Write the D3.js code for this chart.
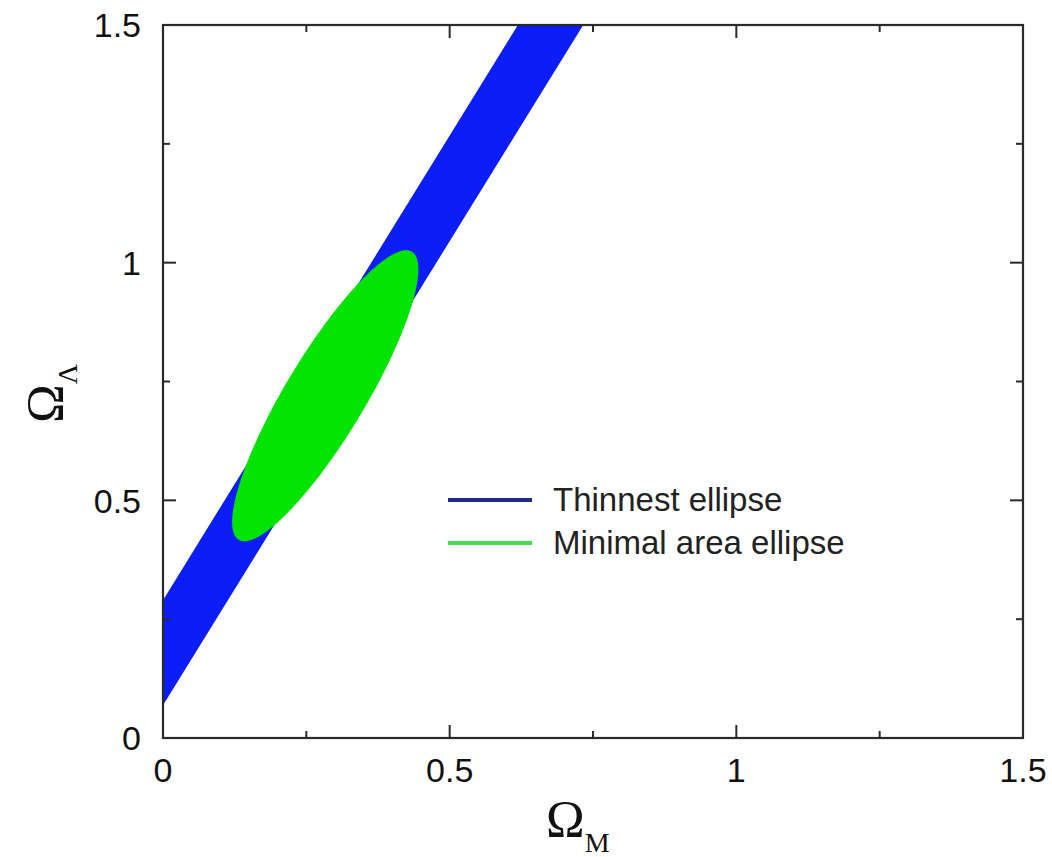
<!DOCTYPE html>
<html>
<head>
<meta charset="utf-8">
<script src="https://cdn.jsdelivr.net/npm/d3@7"></script>
<style>
  html, body { margin: 0; padding: 0; background: #fff; }
  svg { display: block; }
</style>
</head>
<body>
<svg id="chart" width="1052" height="857"></svg>
<script>
// ---- data ----
const xDomain = [0, 1.5];
const yDomain = [0, 1.5];
const majorTicks = [0, 0.5, 1, 1.5];
const majorTickLabels = ["0", "0.5", "1", "1.5"];
const minorTicks = [0.25, 0.75, 1.25];

// Thinnest ellipse: a narrow band (corner points in data units, Ω_M, Ω_Λ)
const bandPolygon = [[0, 0.29], [0.619, 1.5], [0.733, 1.5], [0, 0.069]];

// Minimal area ellipse: centre and two conjugate semi-diameters (data units)
const ellipseCenter = [0.283, 0.72];
const ellipseU = [0.151, 0.303];
const ellipseV = [0.0598, -0.0433];

const legendLabels = ["Thinnest ellipse", "Minimal area ellipse"];
const xTitle = ["Ω", "M"];
const yTitle = ["Ω", "Λ"];

// ---- drawing ----
const svg = d3.select("#chart");
const x = d3.scaleLinear().domain(xDomain).range([163, 1023]);
const y = d3.scaleLinear().domain(yDomain).range([738, 25]);

svg.append("defs").append("clipPath").attr("id", "plotclip")
  .append("rect").attr("x", x(0)).attr("y", y(1.5))
  .attr("width", x(1.5) - x(0)).attr("height", y(0) - y(1.5));

const plot = svg.append("g").attr("clip-path", "url(#plotclip)");

const line = d3.line().x(d => x(d[0])).y(d => y(d[1]));

plot.append("path")
  .attr("d", line(bandPolygon) + "Z")
  .attr("fill", "#0b1ef8");

const angles = d3.range(0, 360, 2).map(a => a * Math.PI / 180);
const ellipsePts = angles.map(t => [
  ellipseCenter[0] + ellipseU[0] * Math.cos(t) + ellipseV[0] * Math.sin(t),
  ellipseCenter[1] + ellipseU[1] * Math.cos(t) + ellipseV[1] * Math.sin(t)
]);
plot.append("path")
  .attr("d", d3.line().x(d => x(d[0])).y(d => y(d[1])).curve(d3.curveCardinalClosed)(ellipsePts))
  .attr("fill", "#00e400");

// frame
const frameColor = "#2a2a2a";
svg.append("rect")
  .attr("x", x(0)).attr("y", y(1.5))
  .attr("width", x(1.5) - x(0)).attr("height", y(0) - y(1.5))
  .attr("fill", "none").attr("stroke", frameColor).attr("stroke-width", 2.2);

// ticks (inward, all four sides)
const tickG = svg.append("g").attr("stroke", frameColor).attr("stroke-width", 2);
function drawTicks(vals, len) {
  vals.forEach(v => {
    tickG.append("line").attr("x1", x(v)).attr("x2", x(v)).attr("y1", y(0)).attr("y2", y(0) - len);
    tickG.append("line").attr("x1", x(v)).attr("x2", x(v)).attr("y1", y(1.5)).attr("y2", y(1.5) + len);
    tickG.append("line").attr("y1", y(v)).attr("y2", y(v)).attr("x1", x(0)).attr("x2", x(0) + len);
    tickG.append("line").attr("y1", y(v)).attr("y2", y(v)).attr("x1", x(1.5)).attr("x2", x(1.5) - len);
  });
}
drawTicks(majorTicks, 13);
drawTicks(minorTicks, 7);

// tick labels
const tickFont = "'Liberation Sans', Arial, sans-serif";
svg.append("g").selectAll("text").data(majorTicks).join("text")
  .attr("x", d => x(d)).attr("y", 782)
  .attr("text-anchor", "middle")
  .attr("font-family", tickFont).attr("font-size", 34).attr("fill", "#111")
  .text((d, i) => majorTickLabels[i]);

svg.append("g").selectAll("text").data(majorTicks).join("text")
  .attr("x", 141).attr("y", d => y(d)).attr("dy", "0.36em")
  .attr("text-anchor", "end")
  .attr("font-family", tickFont).attr("font-size", 34).attr("fill", "#111")
  .text((d, i) => majorTickLabels[i]);

// axis titles
const serif = "'Liberation Serif', 'Times New Roman', serif";
const xt = svg.append("text").attr("x", 546).attr("y", 837)
  .attr("font-family", serif).attr("font-size", 52).attr("fill", "#111");
xt.append("tspan").text(xTitle[0]);
xt.append("tspan").attr("dy", 15).attr("font-size", 28).text(xTitle[1]);

const yt = svg.append("text").attr("transform", "translate(63,423) rotate(-90)")
  .attr("font-family", serif).attr("font-size", 52).attr("fill", "#111");
yt.append("tspan").text(yTitle[0]);
yt.append("tspan").attr("dy", 14).attr("font-size", 28).text(yTitle[1]);

// legend
const legendColors = ["#1f2a8c", "#3fe04a"];
const legendY = [500, 543];
legendLabels.forEach((lab, i) => {
  svg.append("line").attr("x1", 448).attr("x2", 532)
    .attr("y1", legendY[i]).attr("y2", legendY[i])
    .attr("stroke", legendColors[i]).attr("stroke-width", 4);
  svg.append("text").attr("x", 553).attr("y", legendY[i] + 11)
    .attr("font-family", tickFont).attr("font-size", 33).attr("fill", "#222")
    .text(lab);
});
</script>
</body>
</html>
